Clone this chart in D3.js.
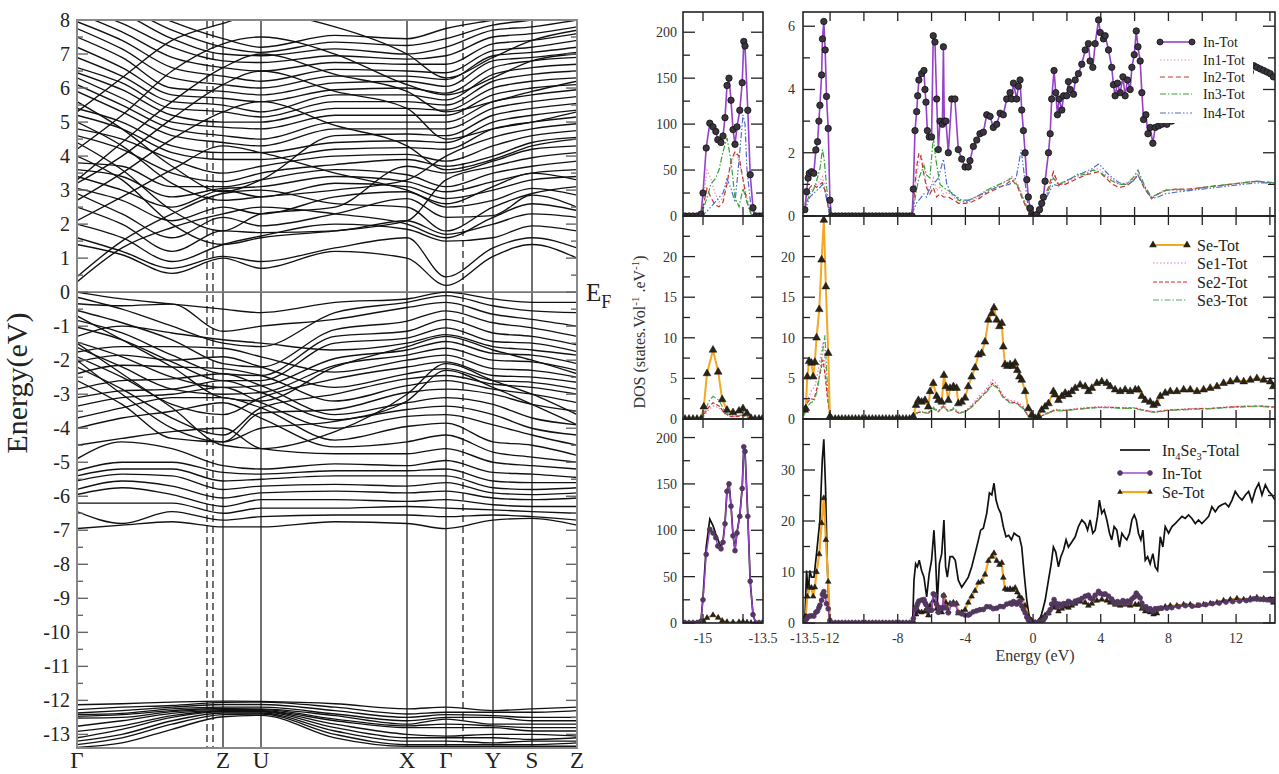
<!DOCTYPE html>
<html lang="en">
<head>
  <meta charset="UTF-8">
  <title>In4Se3 bands and DOS</title>
  <style>
    body { margin: 0; background: #fff; }
    svg { display: block; }
  </style>
</head>
<body>
<script src="https://d3js.org/d3.v7.min.js"></script>
<script>
// ---------------- band structure data ----------------
// k-path distance (arbitrary units) of the sampled points and the symmetry lines
const kSamples = [0, 45, 95, 146, 184, 258, 330, 369, 416, 455, 500]
const kSolid = [146, 184, 330, 369, 416, 455]
const kDashed = [130, 136, 386]
const kLabels = [['Γ', 0], ['Z', 146], ['U', 184], ['X', 330], ['Γ', 369], ['Y', 416], ['S', 455], ['Z', 500]]
const energyTicks = [8, 7, 6, 5, 4, 3, 2, 1, 0, -1, -2, -3, -4, -5, -6, -7, -8, -9, -10, -11, -12, -13]

// one row per band, energies (eV) at the k samples
const valenceBands = [
  [0, -0.2, -0.35, -0.5, -0.6, -0.3, -0.2, 0, -0.2, -0.3, -0.3],
  [-0.15, -0.5, -1.0, -1.5, -1.6, -0.6, -0.3, -0.1, -0.4, -0.55, -0.6],
  [-0.34, -0.4, -0.35, -1.15, -1.0, -0.8, -0.45, -0.3, -0.65, -0.8, -1.0],
  [-0.54, -0.9, -1.4, -2.1, -2.2, -1.1, -0.85, -0.55, -0.9, -1.05, -1.3],
  [-0.83, -1.2, -1.85, -2.4, -2.45, -1.3, -1.15, -0.8, -1.2, -1.3, -1.55],
  [-1.03, -1.4, -2.05, -2.6, -2.6, -1.5, -1.35, -1.05, -1.45, -1.5, -1.75],
  [-1.3, -1.0, -1.2, -1.4, -1.5, -1.7, -1.5, -1.25, -1.6, -1.7, -1.85],
  [-1.47, -1.9, -2.5, -2.8, -2.75, -1.95, -1.7, -1.45, -1.8, -1.85, -2.1],
  [-1.62, -2.2, -2.85, -3.0, -2.95, -2.15, -1.85, -1.65, -2.0, -2.05, -2.3],
  [-1.76, -1.6, -1.6, -1.65, -1.9, -2.35, -2.0, -1.85, -2.25, -2.3, -2.5],
  [-1.9, -2.5, -3.3, -3.6, -3.1, -2.55, -2.2, -2.05, -2.45, -2.5, -2.65],
  [-2.05, -1.85, -2.0, -1.9, -2.2, -2.8, -2.4, -2.25, -2.6, -2.65, -2.85],
  [-2.2, -2.85, -3.7, -4.2, -3.4, -3.0, -2.55, -2.45, -2.7, -2.8, -3.0],
  [-2.4, -2.15, -2.2, -2.25, -2.45, -3.2, -2.75, -2.6, -2.85, -3.0, -3.25],
  [-2.6, -3.3, -4.3, -4.4, -3.55, -3.45, -2.95, -2.85, -3.0, -3.3, -3.5],
  [-2.85, -2.6, -2.55, -2.4, -2.75, -3.6, -3.25, -3.1, -3.3, -3.7, -3.9],
  [-3.1, -2.9, -2.85, -2.6, -2.95, -3.75, -3.45, -3.35, -3.6, -4.0, -4.2],
  [-3.35, -3.1, -3.0, -2.8, -3.25, -4.0, -3.65, -3.6, -3.9, -4.2, -4.5],
  [-3.7, -3.4, -3.1, -3.1, -3.4, -4.35, -3.95, -3.85, -4.4, -4.5, -4.8],
  [-4.0, -3.7, -3.5, -3.25, -3.7, -4.55, -4.4, -4.2, -4.7, -4.85, -5.0],
  [-4.5, -4.3, -4.1, -4.0, -4.6, -4.75, -4.75, -4.6, -5.0, -5.1, -5.2],
  [-4.9, -4.4, -4.6, -5.1, -5.2, -5.05, -5.1, -4.95, -5.3, -5.35, -5.45],
  [-5.25, -5.0, -5.0, -5.3, -5.35, -5.25, -5.25, -5.2, -5.55, -5.6, -5.6],
  [-5.4, -5.2, -5.2, -5.55, -5.5, -5.4, -5.4, -5.4, -5.75, -5.8, -5.75],
  [-5.55, -5.35, -5.4, -5.8, -5.7, -5.65, -5.7, -5.6, -5.9, -5.95, -5.9],
  [-5.8, -5.55, -5.7, -6.05, -5.9, -5.85, -5.9, -5.85, -6.05, -6.1, -6.05],
  [-5.95, -5.75, -5.95, -6.3, -6.1, -6.1, -6.15, -6.1, -6.25, -6.3, -6.3],
  [-6.2, -6.2, -6.2, -6.5, -6.35, -6.35, -6.3, -6.35, -6.4, -6.45, -6.5],
  [-6.45, -6.8, -6.45, -6.7, -6.6, -6.55, -6.55, -6.6, -6.55, -6.6, -6.7],
  [-6.95, -6.85, -6.75, -6.9, -6.9, -6.75, -6.8, -6.95, -6.7, -6.65, -6.85],
  [-1.5, -2.4, -3.4, -4.5, -4.6, -4.1, -3.0, -2.1, -2.6, -3.0, -3.6],
  [-2.0, -3.0, -4.0, -4.4, -4.0, -3.8, -3.2, -2.3, -2.8, -3.3, -3.9],
  [-0.7, -1.4, -2.2, -3.1, -3.2, -2.2, -1.6, -1.3, -1.7, -2.0, -2.4]
]
const conductionBands = [
  [0.3, 1.3, 1.9, 2.3, 2.5, 2.3, 2.0, 1.6, 2.2, 2.6, 2.4],
  [0.45, 1.5, 2.3, 2.9, 3.0, 2.6, 2.5, 1.8, 2.5, 2.9, 3.1],
  [1.4, 1.1, 0.55, 1.0, 0.7, 1.2, 1.0, 0.2, 1.05, 1.4, 1.0],
  [1.6, 1.2, 0.7, 1.05, 0.9, 1.3, 1.6, 0.45, 1.3, 1.6, 1.3],
  [2.0, 1.6, 0.9, 1.4, 1.65, 2.0, 1.85, 1.5, 1.6, 1.95, 1.8],
  [2.5, 2.0, 1.2, 1.8, 1.75, 1.8, 2.1, 1.7, 2.0, 2.3, 2.2],
  [2.9, 2.3, 1.6, 2.2, 1.95, 2.3, 2.75, 2.2, 2.25, 2.85, 2.5],
  [3.05, 2.7, 2.1, 2.5, 2.3, 2.8, 2.95, 2.5, 2.7, 3.05, 2.85],
  [3.4, 3.0, 2.5, 3.0, 2.8, 3.2, 3.1, 2.75, 3.0, 3.3, 3.4],
  [3.6, 3.4, 2.8, 3.05, 3.1, 3.4, 3.25, 2.95, 3.25, 3.5, 3.6],
  [3.8, 3.7, 3.1, 3.1, 3.3, 3.6, 3.45, 3.1, 3.5, 3.7, 3.85],
  [4.0, 3.3, 2.0, 1.4, 1.6, 1.8, 2.1, 3.3, 3.7, 3.95, 4.1],
  [4.4, 3.6, 2.4, 1.8, 2.3, 2.5, 3.7, 3.5, 3.85, 4.2, 4.3],
  [4.6, 4.2, 3.5, 3.25, 3.5, 3.75, 3.9, 3.7, 4.0, 4.4, 4.55],
  [4.8, 4.5, 3.9, 3.5, 3.7, 4.0, 4.05, 3.85, 4.3, 4.6, 4.75],
  [5.0, 4.3, 3.2, 2.7, 2.8, 3.0, 3.3, 4.0, 4.55, 4.8, 4.95],
  [5.2, 4.8, 4.1, 3.9, 3.9, 4.2, 4.25, 4.2, 4.8, 5.0, 5.15],
  [5.4, 5.0, 4.3, 4.1, 4.1, 4.4, 4.45, 4.4, 5.0, 5.2, 5.35],
  [5.6, 4.8, 3.7, 2.95, 3.3, 4.6, 4.65, 4.6, 5.2, 5.4, 5.55],
  [5.9, 5.3, 4.6, 4.4, 4.3, 4.8, 4.8, 4.8, 5.4, 5.6, 5.75],
  [6.1, 5.5, 4.8, 4.6, 4.5, 5.0, 5.0, 5.0, 5.6, 5.8, 5.95],
  [6.3, 5.7, 5.0, 4.85, 4.8, 5.2, 5.2, 5.2, 5.8, 6.0, 6.1],
  [6.45, 5.95, 5.2, 5.0, 5.0, 5.4, 5.4, 5.35, 6.0, 6.2, 6.3],
  [6.6, 6.15, 5.4, 5.3, 5.15, 5.6, 5.6, 5.5, 6.2, 6.4, 6.5],
  [6.9, 6.35, 5.6, 5.5, 5.3, 5.8, 5.8, 5.65, 6.4, 6.6, 6.7],
  [7.2, 6.6, 5.8, 5.7, 5.6, 5.95, 6.0, 5.85, 6.6, 6.8, 6.9],
  [7.5, 6.9, 6.0, 5.9, 5.8, 6.15, 6.2, 6.05, 6.8, 6.9, 7.05],
  [7.75, 7.15, 6.3, 6.1, 6.0, 6.35, 6.35, 6.25, 6.95, 7.05, 7.2],
  [7.95, 7.4, 6.6, 6.35, 6.2, 6.55, 6.5, 6.45, 7.1, 7.2, 7.4],
  [8.2, 7.65, 6.9, 6.6, 6.5, 6.75, 6.7, 6.7, 7.3, 7.4, 7.6],
  [8.4, 7.9, 7.2, 6.8, 6.75, 6.95, 6.85, 6.95, 7.5, 7.6, 7.8],
  [8.6, 8.2, 7.45, 7.0, 6.95, 7.15, 7.0, 7.2, 7.7, 7.8, 8.0],
  [8.8, 8.4, 7.7, 7.2, 7.05, 7.35, 7.25, 7.45, 7.85, 8.0, 8.2],
  [9.0, 8.6, 7.95, 7.45, 7.2, 7.55, 7.45, 7.75, 8.0, 8.2, 8.4],
  [2.1, 2.8, 3.6, 4.3, 4.1, 3.5, 3.0, 2.6, 3.1, 3.5, 3.3],
  [2.7, 3.5, 4.5, 5.3, 5.6, 4.9, 4.3, 3.6, 3.9, 4.3, 4.5],
  [3.2, 4.0, 5.1, 6.1, 6.5, 5.9, 5.4, 4.5, 4.8, 5.0, 5.3],
  [3.3, 4.4, 5.6, 6.6, 7.0, 6.4, 5.9, 5.3, 5.6, 5.9, 6.2],
  [4.2, 5.2, 6.5, 7.3, 7.5, 7.0, 6.1, 5.8, 6.3, 6.8, 7.0],
  [5.3, 6.3, 7.4, 7.9, 8.2, 7.8, 7.0, 6.3, 6.9, 7.4, 7.7]
]
// In 4d-like narrow bands, one array per k sample
const deep = [
  [-12.13, -12.27, -12.37, -12.42, -12.47, -12.52, -12.76, -12.91, -13.1, -13.2, -13.3, -13.38],
  [-12.1, -12.2, -12.3, -12.38, -12.42, -12.5, -12.6, -12.75, -12.85, -13.0, -13.1, -13.25],
  [-12.05, -12.15, -12.2, -12.25, -12.3, -12.33, -12.38, -12.45, -12.5, -12.6, -12.7, -12.85],
  [-12.02, -12.06, -12.12, -12.2, -12.24, -12.27, -12.3, -12.32, -12.34, -12.37, -12.42, -12.48],
  [-12.03, -12.05, -12.12, -12.2, -12.25, -12.27, -12.3, -12.32, -12.34, -12.37, -12.4, -12.44],
  [-12.1, -12.2, -12.3, -12.4, -12.45, -12.55, -12.6, -12.7, -12.8, -12.9, -13.0, -13.1],
  [-12.25, -12.4, -12.5, -12.6, -12.7, -12.75, -12.8, -13.0, -13.1, -13.2, -13.3, -13.35],
  [-12.2, -12.35, -12.42, -12.5, -12.55, -12.7, -12.8, -13.05, -13.1, -13.2, -13.3, -13.35],
  [-12.3, -12.35, -12.45, -12.5, -12.7, -12.75, -12.8, -13.0, -13.1, -13.25, -13.3, -13.35],
  [-12.25, -12.35, -12.5, -12.6, -12.7, -12.8, -12.9, -13.0, -13.15, -13.2, -13.3, -13.35],
  [-12.2, -12.3, -12.5, -12.6, -12.7, -12.8, -12.9, -13.05, -13.1, -13.2, -13.25, -13.35]
]

// ---------------- DOS data: [energy (eV), states] ----------------
const inTotL = [[-15.45,0],[-15.35,0],[-15.25,0],[-15.15,0],[-15.05,2],[-15.0,25],[-14.92,74],[-14.83,101],[-14.75,97],[-14.68,92],[-14.63,83],[-14.55,80],[-14.5,87],[-14.45,107],[-14.4,142],[-14.35,150],[-14.3,126],[-14.25,94],[-14.2,78],[-14.15,97],[-14.08,115],[-14.02,145],[-13.98,190],[-13.95,185],[-13.88,115],[-13.82,45],[-13.75,9],[-13.68,0],[-13.6,0],[-13.52,0]]
const in1L = [[-15.05,0],[-14.9,50],[-14.8,40],[-14.7,25],[-14.6,15],[-14.5,20],[-14.4,40],[-14.3,55],[-14.2,70],[-14.1,60],[-14.0,40],[-13.9,20],[-13.8,5],[-13.7,0]]
const in2L = [[-15.05,0],[-14.9,30],[-14.8,20],[-14.7,12],[-14.6,10],[-14.5,15],[-14.4,35],[-14.3,60],[-14.2,70],[-14.1,65],[-14.0,40],[-13.9,15],[-13.8,3],[-13.7,0]]
const in3L = [[-15.05,0],[-14.9,20],[-14.8,35],[-14.7,40],[-14.6,50],[-14.5,70],[-14.4,85],[-14.3,60],[-14.2,20],[-14.1,10],[-14.0,30],[-13.9,15],[-13.8,2],[-13.7,0]]
const in4L = [[-15.05,0],[-14.9,5],[-14.8,10],[-14.7,15],[-14.6,20],[-14.5,25],[-14.4,40],[-14.3,30],[-14.2,15],[-14.1,60],[-14.0,110],[-13.95,100],[-13.9,50],[-13.8,10],[-13.7,0]]

const seTotL = [[-15.45,0],[-15.35,0],[-15.25,0],[-15.15,0],[-15.05,0],[-14.98,1.5],[-14.9,5.6],[-14.75,8.5],[-14.62,5.8],[-14.52,2.4],[-14.4,1.1],[-14.25,0.8],[-14.1,1.0],[-14.0,1.3],[-13.9,0.7],[-13.8,0.1],[-13.7,0],[-13.6,0],[-13.52,0]]
const se1L = [[-15.05,0],[-14.95,0.5],[-14.85,1.2],[-14.75,1.6],[-14.6,1.4],[-14.45,0.6],[-14.3,0.3],[-14.15,0.35],[-14.0,0.5],[-13.85,0.2],[-13.7,0]]
const se2L = [[-15.05,0],[-14.95,0.8],[-14.85,1.5],[-14.75,2.0],[-14.6,1.6],[-14.45,0.7],[-14.3,0.3],[-14.15,0.3],[-14.0,0.45],[-13.85,0.2],[-13.7,0]]
const se3L = [[-15.05,0],[-14.95,1.0],[-14.85,2.2],[-14.75,2.8],[-14.6,2.3],[-14.45,0.9],[-14.3,0.4],[-14.15,0.4],[-14.0,0.5],[-13.85,0.2],[-13.7,0]]
const totalL = [[-15.45,0],[-15.25,0],[-15.05,3],[-15.0,28],[-14.92,82],[-14.83,112],[-14.75,105],[-14.68,96],[-14.6,87],[-14.55,82],[-14.5,89],[-14.45,108],[-14.4,143],[-14.35,151],[-14.3,127],[-14.25,95],[-14.2,79],[-14.15,98],[-14.08,116],[-14.02,146],[-13.98,191],[-13.95,186],[-13.88,116],[-13.82,45],[-13.75,9],[-13.68,0],[-13.52,0]]

const inTotR = [[-13.49,0.2],[-13.39,0.77],[-13.3,1.2],[-13.23,1.35],[-13.1,1.4],[-12.96,1.35],[-12.84,2.09],[-12.74,2.35],[-12.66,3.0],[-12.6,3.5],[-12.5,4.46],[-12.45,5.6],[-12.37,6.15],[-12.29,5.25],[-12.21,3.78],[-12.11,2.77],[-12.01,0.5],[-11.91,0],
  [-11.7,0],[-11.5,0],[-11.3,0],[-11.1,0],[-10.9,0],[-10.7,0],[-10.5,0],[-10.3,0],[-10.1,0],[-9.9,0],[-9.7,0],[-9.5,0],[-9.3,0],[-9.1,0],[-8.9,0],[-8.7,0],[-8.5,0],[-8.3,0],[-8.1,0],[-7.9,0],[-7.7,0],[-7.5,0],[-7.3,0],[-7.15,0],
  [-7.08,0.85],[-6.98,2.7],[-6.88,3.3],[-6.82,3.8],[-6.75,4.3],[-6.59,4.5],[-6.45,4.6],[-6.39,4.0],[-6.33,3.6],[-6.25,2.7],[-6.14,2.5],[-6.0,2.5],[-5.9,5.7],[-5.8,5.5],[-5.7,3.7],[-5.6,2.1],[-5.5,3.0],[-5.36,2.9],[-5.3,5.35],[-5.25,3.0],[-5.15,3.0],[-5.01,2.0],[-4.81,3.7],[-4.62,3.7],[-4.42,2.1],[-4.22,1.8],[-4.02,1.55],[-3.83,1.55],[-3.73,1.75],[-3.53,2.2],[-3.33,2.4],[-3.14,2.6],[-2.94,2.65],[-2.74,3.2],[-2.54,3.15],[-2.35,2.8],[-2.15,2.9],[-1.95,3.25],[-1.76,3.2],[-1.56,3.7],[-1.36,3.9],[-1.26,3.7],[-1.16,4.2],[-0.97,3.7],[-0.87,4.1],[-0.77,4.3],[-0.67,3.35],[-0.57,2.7],[-0.47,2.0],[-0.37,1.15],[-0.28,0.6],[-0.18,0.25],[-0.08,0.05],[0.02,0],[0.12,0],[0.22,0.05],[0.38,0.2],[0.51,0.4],[0.61,0.6],[0.71,1.1],[0.91,2.0],[1.01,2.6],[1.1,3.7],[1.24,4.6],[1.34,3.9],[1.44,3.2],[1.54,3.7],[1.7,3.35],[1.8,3.8],[1.99,3.8],[2.09,4.25],[2.19,4.0],[2.39,3.85],[2.49,4.3],[2.68,4.5],[2.88,4.8],[3.08,5.25],[3.27,5.45],[3.37,4.9],[3.53,4.7],[3.67,5.45],[3.87,6.2],[3.97,5.8],[4.16,5.6],[4.26,5.7],[4.46,5.25],[4.65,4.7],[4.75,4.15],[4.85,3.8],[4.99,4.2],[5.15,3.9],[5.31,4.4],[5.44,3.8],[5.58,4.3],[5.74,4.0],[5.84,4.7],[5.98,5.1],[6.1,5.85],[6.2,5.35],[6.33,4.9],[6.43,3.9],[6.53,3.05],[6.67,3.2],[6.79,2.6],[6.92,2.8],[7.08,2.3],[7.22,2.8],[7.42,2.85],[7.61,2.9],[7.91,2.9],
  [8.2,3.0],[8.6,3.2],[9.0,3.4],[9.4,3.3],[9.8,3.5],[10.2,3.6],[10.6,3.8],[11.0,3.9],[11.4,4.1],[11.8,4.2],[12.2,4.3],[12.6,4.4],[12.84,4.55],[13.05,4.75],[13.23,4.7],[13.43,4.65],[13.63,4.6],[13.83,4.55],[14.02,4.5],[14.2,4.4]]
const in1R = [[-13.55,0.1],[-13.4,0.5],[-13.2,0.8],[-13.0,0.85],[-12.8,1.0],[-12.6,1.1],[-12.45,1.25],[-12.3,0.9],[-12.15,0.5],[-12.02,0.05],[-11.9,0],[-7.2,0],[-7.05,0.4],[-6.9,1.2],[-6.75,1.7],[-6.6,1.9],[-6.45,1.5],[-6.3,1.0],[-6.1,0.8],[-5.9,1.2],[-5.7,0.8],[-5.5,0.9],[-5.3,0.7],[-5.0,0.75],[-4.7,0.6],[-4.4,0.45],[-4.0,0.4],[-3.6,0.5],[-3.2,0.6],[-2.8,0.75],[-2.4,0.85],[-2.0,0.95],[-1.6,1.1],[-1.25,1.25],[-0.9,1.0],[-0.6,0.6],[-0.3,0.2],[0,0],[0.3,0.05],[0.6,0.4],[0.9,0.8],[1.2,1.35],[1.5,0.95],[1.9,1.05],[2.3,1.15],[2.7,1.25],[3.1,1.35],[3.5,1.45],[3.9,1.5],[4.3,1.3],[4.7,1.15],[5.1,1.0],[5.5,1.05],[5.9,1.15],[6.2,1.35],[6.6,0.9],[7.0,0.6],[7.4,0.7],[7.8,0.85],[8.4,0.8],[9.2,0.85],[10.0,0.9],[10.8,0.95],[11.6,1.0],[12.4,1.05],[13.2,1.1],[14.3,1.0]]
const in2R = [[-13.55,0.1],[-13.4,0.6],[-13.2,0.9],[-13.0,1.0],[-12.8,0.9],[-12.6,1.0],[-12.45,1.05],[-12.3,0.8],[-12.15,0.4],[-12.02,0.05],[-11.9,0],[-7.2,0],[-7.05,0.5],[-6.9,1.5],[-6.75,2.0],[-6.6,1.8],[-6.45,1.3],[-6.3,0.9],[-6.1,0.7],[-5.9,0.9],[-5.7,0.6],[-5.5,0.7],[-5.3,0.6],[-5.0,0.6],[-4.7,0.5],[-4.4,0.4],[-4.0,0.4],[-3.6,0.45],[-3.2,0.55],[-2.8,0.7],[-2.4,0.8],[-2.0,0.9],[-1.6,1.0],[-1.25,1.15],[-0.9,0.9],[-0.6,0.5],[-0.3,0.15],[0,0],[0.3,0.05],[0.6,0.5],[0.9,0.9],[1.2,1.4],[1.5,1.0],[1.9,1.0],[2.3,1.1],[2.7,1.2],[3.1,1.3],[3.5,1.35],[3.9,1.4],[4.3,1.2],[4.7,1.0],[5.1,0.9],[5.5,0.95],[5.9,1.1],[6.2,1.3],[6.6,0.85],[7.0,0.55],[7.4,0.7],[7.8,0.8],[8.4,0.85],[9.2,0.85],[10.0,0.9],[10.8,0.95],[11.6,1.0],[12.4,1.05],[13.2,1.1],[14.3,1.05]]
const in3R = [[-13.55,0.1],[-13.4,0.4],[-13.2,0.7],[-13.0,0.8],[-12.8,1.1],[-12.6,1.5],[-12.45,2.1],[-12.35,1.8],[-12.2,0.9],[-12.05,0.1],[-11.9,0],[-7.2,0],[-7.05,0.3],[-6.9,0.8],[-6.75,1.2],[-6.6,1.4],[-6.45,1.6],[-6.3,1.3],[-6.1,1.2],[-5.9,2.5],[-5.75,1.8],[-5.5,1.0],[-5.3,0.9],[-5.0,0.8],[-4.7,0.7],[-4.4,0.5],[-4.0,0.45],[-3.6,0.55],[-3.2,0.65],[-2.8,0.8],[-2.4,0.9],[-2.0,1.0],[-1.6,1.1],[-1.25,1.2],[-0.9,0.95],[-0.6,0.55],[-0.3,0.2],[0,0],[0.3,0.05],[0.6,0.45],[0.9,0.8],[1.2,1.2],[1.5,1.0],[1.9,1.1],[2.3,1.2],[2.7,1.35],[3.1,1.3],[3.5,1.45],[3.9,1.4],[4.3,1.25],[4.7,1.1],[5.1,1.0],[5.5,1.0],[5.9,1.2],[6.2,1.45],[6.6,0.95],[7.0,0.6],[7.4,0.7],[7.8,0.8],[8.4,0.85],[9.2,0.8],[10.0,0.9],[10.8,0.95],[11.6,1.0],[12.4,1.05],[13.2,1.1],[14.3,1.05]]
const in4R = [[-13.55,0.1],[-13.4,0.3],[-13.2,0.6],[-13.0,0.7],[-12.8,0.8],[-12.6,0.9],[-12.45,1.0],[-12.3,0.8],[-12.15,0.4],[-12.02,0.05],[-11.9,0],[-7.2,0],[-7.05,0.2],[-6.9,0.4],[-6.75,0.5],[-6.6,0.6],[-6.45,0.7],[-6.3,0.6],[-6.1,0.9],[-5.9,1.0],[-5.6,1.2],[-5.3,1.8],[-5.1,1.0],[-4.8,0.7],[-4.5,0.6],[-4.2,0.5],[-3.8,0.5],[-3.4,0.6],[-3.0,0.7],[-2.6,0.8],[-2.2,0.9],[-1.8,0.95],[-1.4,1.0],[-1.0,1.2],[-0.7,2.1],[-0.5,1.2],[-0.3,0.3],[0,0],[0.3,0.05],[0.6,0.35],[0.9,0.7],[1.2,1.0],[1.5,0.95],[1.9,1.1],[2.3,1.2],[2.7,1.3],[3.1,1.4],[3.5,1.5],[3.9,1.65],[4.3,1.4],[4.7,1.2],[5.1,1.05],[5.5,1.0],[5.9,1.1],[6.2,1.3],[6.6,0.9],[7.0,0.55],[7.4,0.6],[7.8,0.7],[8.4,0.75],[9.2,0.8],[10.0,0.85],[10.8,0.9],[11.6,0.95],[12.4,1.0],[13.2,1.05],[14.3,1.05]]

const seTotR = [[-13.5,1.1],[-13.43,1.3],[-13.35,5.2],[-13.24,7.1],[-13.1,6.9],[-13.0,5.2],[-12.9,7.0],[-12.8,10.0],[-12.64,13.5],[-12.5,19.6],[-12.37,24.5],[-12.25,16.3],[-12.11,8.1],[-12.01,0.3],[-11.91,0],
  [-11.7,0],[-11.5,0],[-11.3,0],[-11.1,0],[-10.9,0],[-10.7,0],[-10.5,0],[-10.3,0],[-10.1,0],[-9.9,0],[-9.7,0],[-9.5,0],[-9.3,0],[-9.1,0],[-8.9,0],[-8.7,0],[-8.5,0],[-8.3,0],[-8.1,0],[-7.9,0],[-7.7,0],[-7.5,0],[-7.3,0],[-7.15,0],
  [-7.08,0.3],[-6.92,1.7],[-6.78,2.3],[-6.59,2.1],[-6.39,2.3],[-6.19,1.5],[-6.09,3.4],[-5.9,4.4],[-5.7,2.8],[-5.6,2.3],[-5.4,2.1],[-5.27,5.4],[-5.15,4.0],[-5.01,2.3],[-4.91,3.8],[-4.71,4.0],[-4.52,3.8],[-4.42,1.9],[-4.22,2.1],[-4.02,2.6],[-3.83,4.0],[-3.63,5.2],[-3.43,6.3],[-3.23,7.9],[-3.04,8.1],[-2.84,9.5],[-2.64,12.2],[-2.44,13.0],[-2.31,13.7],[-2.15,12.2],[-1.99,11.4],[-1.85,11.8],[-1.76,8.9],[-1.66,6.7],[-1.52,6.5],[-1.36,6.7],[-1.2,6.5],[-1.06,6.9],[-0.93,6.0],[-0.81,5.2],[-0.67,4.8],[-0.47,3.4],[-0.28,1.3],[-0.08,0.5],[0.12,0.1],[0.32,0.3],[0.51,1.1],[0.71,1.5],[0.91,1.9],[1.2,3.4],[1.3,3.0],[1.5,2.3],[1.7,2.8],[1.9,3.2],[2.09,3.0],[2.29,3.4],[2.49,3.8],[2.78,4.2],[3.08,4.0],[3.27,3.4],[3.47,3.8],[3.77,4.4],[4.06,4.6],[4.36,4.4],[4.56,4.0],[4.85,3.6],[5.15,3.4],[5.44,3.6],[5.74,3.4],[6.04,3.6],[6.23,3.6],[6.43,2.8],[6.63,2.3],[6.92,2.1],[7.12,1.7],[7.32,1.9],[7.52,2.8],[7.81,3.2],[8.11,3.4],[8.5,3.4],[8.9,3.6],[9.29,3.6],[9.69,3.4],[10.08,3.6],[10.47,3.8],[10.87,4.0],[11.26,4.4],[11.66,4.6],[12.05,4.8],[12.45,4.6],[12.84,4.8],[13.23,5.0],[13.63,4.8],[14.02,4.6],[14.2,4.0]]
const se1R = [[-13.55,0.5],[-13.3,2.5],[-13.1,3.5],[-12.9,4.0],[-12.7,6.0],[-12.5,8.5],[-12.4,9.5],[-12.3,7.0],[-12.15,3.0],[-12.0,0.2],[-11.9,0],[-7.2,0],[-7.0,0.6],[-6.8,1.0],[-6.5,0.9],[-6.2,0.8],[-5.9,1.5],[-5.6,1.0],[-5.3,1.8],[-5.0,1.0],[-4.7,1.4],[-4.4,0.8],[-4.0,1.0],[-3.6,1.8],[-3.2,2.8],[-2.8,3.6],[-2.4,4.8],[-2.1,4.2],[-1.8,3.0],[-1.4,2.3],[-1.0,2.2],[-0.6,1.6],[-0.3,0.5],[0,0],[0.3,0.1],[0.6,0.5],[1.0,0.9],[1.3,1.2],[1.8,1.1],[2.5,1.3],[3.2,1.4],[3.8,1.5],[4.5,1.5],[5.2,1.4],[6.0,1.4],[6.6,1.1],[7.2,0.9],[7.8,1.1],[8.6,1.2],[9.5,1.3],[10.5,1.3],[11.5,1.5],[12.5,1.6],[13.5,1.6],[14.3,1.5]]
const se2R = [[-13.55,0.5],[-13.35,2.0],[-13.15,2.5],[-12.95,2.4],[-12.75,4.0],[-12.55,6.0],[-12.42,7.3],[-12.3,5.5],[-12.15,2.5],[-12.0,0.2],[-11.9,0],[-7.2,0],[-7.0,0.5],[-6.8,0.8],[-6.5,0.8],[-6.2,0.7],[-5.9,1.3],[-5.6,0.9],[-5.3,1.6],[-5.0,0.9],[-4.7,1.2],[-4.4,0.7],[-4.0,0.9],[-3.6,1.6],[-3.2,2.5],[-2.8,3.3],[-2.4,4.4],[-2.1,3.9],[-1.8,2.8],[-1.4,2.1],[-1.0,2.0],[-0.6,1.4],[-0.3,0.4],[0,0],[0.3,0.1],[0.6,0.5],[1.0,0.85],[1.3,1.1],[1.8,1.05],[2.5,1.2],[3.2,1.35],[3.8,1.45],[4.5,1.45],[5.2,1.35],[6.0,1.35],[6.6,1.05],[7.2,0.85],[7.8,1.05],[8.6,1.15],[9.5,1.25],[10.5,1.3],[11.5,1.45],[12.5,1.55],[13.5,1.6],[14.3,1.45]]
const se3R = [[-13.55,0.4],[-13.35,1.5],[-13.15,2.0],[-12.95,2.2],[-12.75,3.5],[-12.55,6.5],[-12.4,9.0],[-12.3,10.3],[-12.18,5.0],[-12.02,0.3],[-11.9,0],[-7.2,0],[-7.0,0.5],[-6.8,0.9],[-6.5,0.8],[-6.2,0.7],[-5.9,1.4],[-5.6,0.9],[-5.3,1.5],[-5.0,0.9],[-4.7,1.3],[-4.4,0.7],[-4.0,0.9],[-3.6,1.5],[-3.2,2.4],[-2.8,3.2],[-2.4,4.2],[-2.1,3.8],[-1.8,2.7],[-1.4,2.0],[-1.0,1.9],[-0.6,1.3],[-0.3,0.4],[0,0],[0.3,0.1],[0.6,0.45],[1.0,0.8],[1.3,1.05],[1.8,1.0],[2.5,1.15],[3.2,1.3],[3.8,1.4],[4.5,1.4],[5.2,1.3],[6.0,1.3],[6.6,1.0],[7.2,0.8],[7.8,1.0],[8.6,1.1],[9.5,1.2],[10.5,1.25],[11.5,1.4],[12.5,1.5],[13.5,1.55],[14.3,1.4]]

const totalR = [[-13.55,0],[-13.49,0.5],[-13.39,10.3],[-13.29,5.7],[-13.2,10.3],[-13.1,9.0],[-12.95,9.0],[-12.8,13.6],[-12.6,20.2],[-12.46,32.0],[-12.37,36.0],[-12.27,26.8],[-12.17,12.3],[-12.05,1.1],[-11.91,0],[-7.12,0],
  [-7.04,8.4],[-6.94,11.6],[-6.84,11.0],[-6.73,12.3],[-6.59,10.3],[-6.45,9.0],[-6.29,5.1],[-6.14,9.7],[-6.0,12.3],[-5.86,18.2],[-5.76,12.3],[-5.66,4.1],[-5.54,11.6],[-5.4,13.6],[-5.27,20.2],[-5.17,11.0],[-5.07,9.0],[-4.91,13.0],[-4.75,13.0],[-4.6,12.3],[-4.42,8.4],[-4.22,7.0],[-4.02,8.0],[-3.83,9.0],[-3.63,11.0],[-3.43,13.6],[-3.23,16.3],[-3.1,18.2],[-2.94,18.6],[-2.74,21.5],[-2.58,25.5],[-2.44,25.1],[-2.31,27.4],[-2.19,24.1],[-2.05,22.5],[-1.91,21.5],[-1.76,18.9],[-1.6,16.9],[-1.44,17.2],[-1.28,16.3],[-1.12,17.6],[-0.97,17.2],[-0.81,16.9],[-0.67,14.9],[-0.53,9.7],[-0.37,4.4],[-0.22,1.1],[-0.08,0.1],[0.12,0],[0.32,0.1],[0.51,1.8],[0.71,4.4],[0.91,8.4],[1.07,11.6],[1.2,14.9],[1.34,13.9],[1.5,11.0],[1.64,13.0],[1.8,14.3],[1.95,16.3],[2.09,14.9],[2.29,15.9],[2.49,16.9],[2.68,18.9],[2.88,20.2],[3.08,19.5],[3.22,18.2],[3.37,20.2],[3.53,17.6],[3.67,18.2],[3.81,20.9],[3.92,24.1],[4.06,21.5],[4.2,22.2],[4.36,20.2],[4.52,17.6],[4.65,16.3],[4.79,18.9],[4.95,18.2],[5.11,14.9],[5.25,17.6],[5.38,16.9],[5.54,16.3],[5.7,17.6],[5.84,20.2],[5.98,21.2],[6.1,20.2],[6.23,17.6],[6.37,16.3],[6.49,18.2],[6.63,12.3],[6.77,13.0],[6.92,11.6],[7.08,13.6],[7.22,11.0],[7.36,10.3],[7.52,16.9],[7.67,14.9],[7.81,18.9],[8.01,17.6],[8.21,18.9],[8.4,19.5],[8.6,20.2],[8.8,20.9],[8.99,20.5],[9.19,21.2],[9.39,20.5],[9.59,19.5],[9.78,20.2],[9.98,19.5],[10.18,20.2],[10.38,20.9],[10.57,22.8],[10.77,21.8],[10.97,22.8],[11.16,23.2],[11.36,23.5],[11.56,22.8],[11.76,24.1],[11.95,25.8],[12.15,24.8],[12.35,24.1],[12.55,25.1],[12.74,25.8],[12.94,23.8],[13.14,26.1],[13.34,27.4],[13.53,25.1],[13.73,27.1],[13.93,25.8],[14.12,25.1],[14.3,24.1]]

// axis ticks
const xTicksL = [-15, -14]
const xLabelsL = [-15, -13.5]
const xTicksR = [-12, -10, -8, -6, -4, -2, 0, 2, 4, 6, 8, 10, 12, 14]
const xLabelsR = [-13.5, -12, -8, -4, 0, 4, 8, 12]

// ---------------- drawing ----------------
const FONT = '"Liberation Serif", "DejaVu Serif", serif'
const svg = d3.select('body').append('svg')
  .attr('width', 1279).attr('height', 774)
  .style('font-family', FONT)

// band structure
const bx = d3.scaleLinear().domain([0, 500]).range([77, 577])
const by = d3.scaleLinear().domain([-13.4, 8]).range([748, 20])

svg.append('clipPath').attr('id', 'bandClip').append('rect')
  .attr('x', 77).attr('y', 20).attr('width', 500).attr('height', 728)
const bandG = svg.append('g').attr('clip-path', 'url(#bandClip)')

bandG.selectAll(null).data(kSolid).join('line')
  .attr('x1', d => bx(d)).attr('x2', d => bx(d)).attr('y1', 20).attr('y2', 748)
  .attr('stroke', '#111').attr('stroke-width', 1.2)
bandG.selectAll(null).data(kDashed).join('line')
  .attr('x1', d => bx(d)).attr('x2', d => bx(d)).attr('y1', 20).attr('y2', 748)
  .attr('stroke', '#111').attr('stroke-width', 1.2).attr('stroke-dasharray', '7,4')
bandG.append('line').attr('x1', 77).attr('x2', 577).attr('y1', by(0)).attr('y2', by(0))
  .attr('stroke', '#777').attr('stroke-width', 1.6)

const rowBands = rows => rows.map(r => r.map((e, j) => [kSamples[j], e]))
const colBands = cols => d3.range(cols[0].length).map(i => kSamples.map((k, j) => [k, cols[j][i]]))
const bandLine = d3.line().x(d => bx(d[0])).y(d => by(d[1])).curve(d3.curveMonotoneX)
;[rowBands(valenceBands), rowBands(conductionBands), colBands(deep)].forEach(bands => {
  bandG.selectAll(null).data(bands).join('path')
    .attr('d', bandLine).attr('fill', 'none').attr('stroke', '#111').attr('stroke-width', 1.35)
})

// frame + ticks
const bt = svg.append('g').attr('stroke', '#666').attr('stroke-width', 1.4)
energyTicks.forEach(t => {
  bt.append('line').attr('x1', 77).attr('x2', 88).attr('y1', by(t)).attr('y2', by(t))
  bt.append('line').attr('x1', 577).attr('x2', 566).attr('y1', by(t)).attr('y2', by(t))
  if (t > -13) {
    bt.append('line').attr('x1', 77).attr('x2', 83).attr('y1', by(t - 0.5)).attr('y2', by(t - 0.5))
    bt.append('line').attr('x1', 577).attr('x2', 571).attr('y1', by(t - 0.5)).attr('y2', by(t - 0.5))
  }
})
svg.append('rect').attr('x', 77).attr('y', 20).attr('width', 500).attr('height', 728)
  .attr('fill', 'none').attr('stroke', '#888').attr('stroke-width', 2)

svg.selectAll(null).data(energyTicks).join('text')
  .attr('x', 70).attr('y', d => by(d) + 7).attr('text-anchor', 'end')
  .attr('font-size', 20).attr('fill', '#222').text(d => d)
svg.selectAll(null).data(kLabels).join('text')
  .attr('x', d => bx(d[1])).attr('y', 768).attr('text-anchor', 'middle')
  .attr('font-size', 23).attr('fill', '#222').text(d => d[0])
svg.append('text').attr('transform', 'translate(27,383) rotate(-90)')
  .attr('text-anchor', 'middle').attr('font-size', 30).attr('fill', '#222').text('Energy(eV)')
const ef = svg.append('text').attr('x', 586).attr('y', 301).attr('font-size', 25).attr('fill', '#222')
ef.append('tspan').text('E')
ef.append('tspan').attr('dy', 7).attr('font-size', 18).text('F')

// ---------------- DOS panels ----------------
const xL = d3.scaleLinear().domain([-15.5, -13.5]).range([683, 763])
const xR = d3.scaleLinear().domain([-13.6, 14.3]).range([803, 1275])
const rows = [[12, 216], [216, 419], [419, 623]]
let clipN = 0

function panel(x, row, yMax, yMajor, yMinor, labelX, xTicks) {
  const y = d3.scaleLinear().domain([0, yMax]).range([rows[row][1], rows[row][0]])
  const [xa, xb] = x.range()
  const [ya, yb] = [rows[row][1], rows[row][0]]
  const id = 'dclip' + (clipN++)
  svg.append('clipPath').attr('id', id).append('rect')
    .attr('x', xa).attr('y', yb).attr('width', xb - xa).attr('height', ya - yb)
  const body = svg.append('g').attr('clip-path', `url(#${id})`)
  const axes = () => {
    const g = svg.append('g').attr('stroke', '#222').attr('stroke-width', 1.3)
    xTicks.forEach(t => {
      g.append('line').attr('x1', x(t)).attr('x2', x(t)).attr('y1', ya).attr('y2', ya - 9)
      g.append('line').attr('x1', x(t)).attr('x2', x(t)).attr('y1', yb).attr('y2', yb + 9)
    })
    yMajor.forEach(t => {
      g.append('line').attr('x1', xa).attr('x2', xa + 12).attr('y1', y(t)).attr('y2', y(t))
      g.append('line').attr('x1', xb).attr('x2', xb - 12).attr('y1', y(t)).attr('y2', y(t))
    })
    yMinor.forEach(t => {
      g.append('line').attr('x1', xa).attr('x2', xa + 7).attr('y1', y(t)).attr('y2', y(t))
      g.append('line').attr('x1', xb).attr('x2', xb - 7).attr('y1', y(t)).attr('y2', y(t))
    })
    g.append('rect').attr('x', xa).attr('y', yb).attr('width', xb - xa).attr('height', ya - yb)
      .attr('fill', 'none').attr('stroke-width', 1.6)
    svg.selectAll(null).data(yMajor).join('text')
      .attr('x', labelX).attr('y', d => y(d) + 5).attr('text-anchor', 'end')
      .attr('font-size', 14).attr('fill', '#333').text(d => d)
  }
  return { x, y, body, axes }
}

function series(p, data, st) {
  p.body.append('path').datum(data)
    .attr('d', d3.line().x(d => p.x(d[0])).y(d => p.y(d[1])))
    .attr('fill', 'none').attr('stroke', st.color).attr('stroke-width', st.width || 1.2)
    .attr('stroke-dasharray', st.dash || null)
  if (st.marker === 'circle') {
    p.body.selectAll(null).data(data).join('circle')
      .attr('cx', d => p.x(d[0])).attr('cy', d => p.y(d[1])).attr('r', st.r || 3.2)
      .attr('fill', st.mfill || '#3b3540').attr('stroke', st.mstroke || '#111').attr('stroke-width', 0.8)
  }
  if (st.marker === 'triangle') {
    const sym = d3.symbol(d3.symbolTriangle, st.size || 26)
    p.body.selectAll(null).data(data).join('path')
      .attr('transform', d => `translate(${p.x(d[0])},${p.y(d[1])})`)
      .attr('d', sym).attr('fill', st.mfill || '#2a2418').attr('stroke', '#111').attr('stroke-width', 0.5)
  }
}

const S = {
  inTot: { color: '#9540c8', width: 1.6, marker: 'circle' },
  in1: { color: '#e98fb5', dash: '1.5,2' },
  in2: { color: '#c0392b', dash: '5,3' },
  in3: { color: '#3aa03a', dash: '6,2,1.5,2' },
  in4: { color: '#4a6fd0', dash: '6,2,1.5,2,1.5,2' },
  seTot: { color: '#f5a623', width: 2, marker: 'triangle' },
  se1: { color: '#e377c2', dash: '1.5,2' },
  se2: { color: '#d62728', dash: '4,2' },
  se3: { color: '#4caf50', dash: '6,2,1.5,2' },
  total: { color: '#111', width: 1.7 },
  inTotB: { color: '#9540c8', width: 1.4, marker: 'circle', r: 2.4, mfill: '#4a4050', mstroke: '#5b2a73' },
  seTotB: { color: '#f5a623', width: 2.2, marker: 'triangle', size: 14 }
}

// top row: In
const pTL = panel(xL, 0, 222, [0, 50, 100, 150, 200], [25, 75, 125, 175], 677, xTicksL)
;[[in1L, S.in1], [in2L, S.in2], [in3L, S.in3], [in4L, S.in4], [inTotL, S.inTot]].forEach(([d, s]) => series(pTL, d, s))
const pTR = panel(xR, 0, 6.45, [0, 2, 4, 6], [1, 3, 5], 795, xTicksR)
;[[in1R, S.in1], [in2R, S.in2], [in3R, S.in3], [in4R, S.in4], [inTotR, S.inTot]].forEach(([d, s]) => series(pTR, d, s))

// middle row: Se
const pML = panel(xL, 1, 25, [0, 5, 10, 15, 20], [2.5, 7.5, 12.5, 17.5, 22.5], 677, xTicksL)
;[[se1L, S.se1], [se2L, S.se2], [se3L, S.se3], [seTotL, S.seTot]].forEach(([d, s]) => series(pML, d, s))
const pMR = panel(xR, 1, 25, [0, 5, 10, 15, 20], [2.5, 7.5, 12.5, 17.5, 22.5], 795, xTicksR)
;[[se1R, S.se1], [se2R, S.se2], [se3R, S.se3], [seTotR, S.seTot]].forEach(([d, s]) => series(pMR, d, s))

// bottom row: total
const pBL = panel(xL, 2, 220, [0, 50, 100, 150, 200], [25, 75, 125, 175], 677, xTicksL)
;[[totalL, S.total], [seTotL, S.seTotB], [inTotL, S.inTotB]].forEach(([d, s]) => series(pBL, d, s))
const pBR = panel(xR, 2, 40, [0, 10, 20, 30], [5, 15, 25, 35], 795, xTicksR)
;[[totalR, S.total], [seTotR, S.seTotB], [inTotR, S.inTotB]].forEach(([d, s]) => series(pBR, d, s))

;[pTL, pTR, pML, pMR, pBL, pBR].forEach(p => p.axes())

// x labels
svg.selectAll(null).data(xLabelsL).join('text')
  .attr('x', d => xL(d)).attr('y', 643).attr('text-anchor', 'middle')
  .attr('font-size', 14).attr('fill', '#333').text(d => d)
svg.selectAll(null).data(xLabelsR).join('text')
  .attr('x', d => xR(d)).attr('y', 643).attr('text-anchor', 'middle')
  .attr('font-size', 14).attr('fill', '#333').text(d => d)
svg.append('text').attr('x', 1035).attr('y', 661).attr('text-anchor', 'middle')
  .attr('font-size', 16).attr('fill', '#333').text('Energy (eV)')

// DOS y title
const dt = svg.append('text').attr('transform', 'translate(645,332) rotate(-90)')
  .attr('text-anchor', 'middle').attr('font-size', 16).attr('fill', '#333')
dt.append('tspan').text('DOS (states.Vol')
dt.append('tspan').attr('dy', -6).attr('font-size', 11).text('-1')
dt.append('tspan').attr('dy', 6).text(' .eV')
dt.append('tspan').attr('dy', -6).attr('font-size', 11).text('-1')
dt.append('tspan').attr('dy', 6).text(')')

// legends
function legend(items, x0, x1, tx, ys, fs, bg) {
  const g = svg.append('g')
  if (bg) g.append('rect').attr('x', bg[0]).attr('y', bg[1]).attr('width', bg[2]).attr('height', bg[3]).attr('fill', '#fff')
  items.forEach((it, i) => {
    const y = ys[i], st = it.st
    g.append('line').attr('x1', x0).attr('x2', x1).attr('y1', y).attr('y2', y)
      .attr('stroke', st.color).attr('stroke-width', st.width || 1.2).attr('stroke-dasharray', st.dash || null)
    if (st.marker === 'circle') {
      ;[x0, x1].forEach(cx => g.append('circle').attr('cx', cx).attr('cy', y).attr('r', st.r || 3)
        .attr('fill', st.mfill || '#3b3540').attr('stroke', st.mstroke || '#111').attr('stroke-width', 0.8))
    }
    if (st.marker === 'triangle') {
      ;[x0, x1].forEach(cx => g.append('path').attr('transform', `translate(${cx},${y})`)
        .attr('d', d3.symbol(d3.symbolTriangle, st.size || 26)).attr('fill', '#2a2418'))
    }
    const t = g.append('text').attr('x', tx).attr('y', y + fs * 0.35).attr('font-size', fs).attr('fill', '#222')
    it.parts.forEach(([s, sub]) => {
      const ts = t.append('tspan').text(s)
      if (sub) ts.attr('dy', 4).attr('font-size', fs * 0.65)
      else if (sub === false) ts.attr('dy', -4)
    })
  })
}
legend([
  { st: S.inTot, parts: [['In-Tot']] },
  { st: S.in1, parts: [['In1-Tot']] },
  { st: S.in2, parts: [['In2-Tot']] },
  { st: S.in3, parts: [['In3-Tot']] },
  { st: S.in4, parts: [['In4-Tot']] }
], 1160, 1192, 1203, [42, 60, 77, 94, 113], 14, [1153, 30, 100, 93])
legend([
  { st: S.seTot, parts: [['Se-Tot']] },
  { st: S.se1, parts: [['Se1-Tot']] },
  { st: S.se2, parts: [['Se2-Tot']] },
  { st: S.se3, parts: [['Se3-Tot']] }
], 1153, 1187, 1197, [245, 263, 282, 300], 16)
legend([
  { st: S.total, parts: [['In'], ['4', true], ['Se', false], ['3', true], ['-Total', false]] },
  { st: S.inTotB, parts: [['In-Tot']] },
  { st: S.seTotB, parts: [['Se-Tot']] }
], 1120, 1150, 1162, [450, 473, 492], 16)
</script>
</body>
</html>
